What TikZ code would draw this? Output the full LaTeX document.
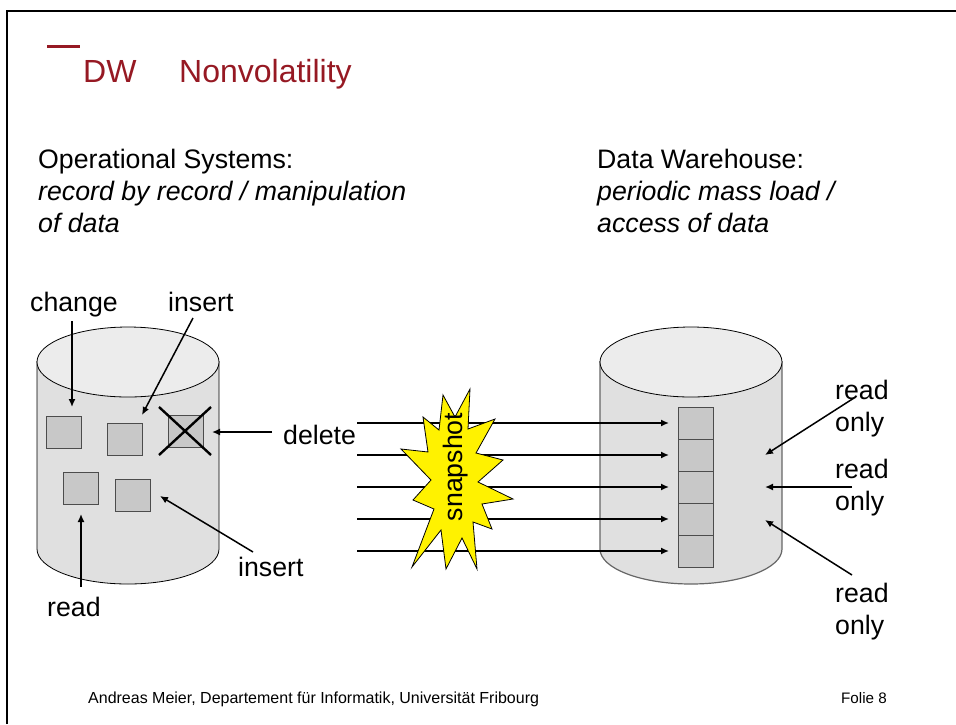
\documentclass[tikz,border=0pt]{standalone}
\usepackage{fontspec}
\usetikzlibrary{arrows.meta}
\setmainfont{Liberation Sans}
\definecolor{titlered}{RGB}{150,25,35}
\definecolor{tankside}{RGB}{224,224,224}
\definecolor{tanktop}{RGB}{236,236,236}
\definecolor{cellgray}{RGB}{200,200,200}
\tikzset{
tank/.style={fill=tankside},
tanklid/.style={draw=black,fill=tanktop,line width=.8pt},
cell/.style={draw=black!70,fill=cellgray,line width=1pt},
label/.style={font=\fontsize{26.7}{32}\selectfont,align=left,inner sep=0pt},
pointer/.style={-{Latex[length=8pt,width=7pt]},line width=1.5pt},
}
\begin{document}
\begin{tikzpicture}[x=1pt,y=-1pt]
\useasboundingbox (0,0) rectangle (956,724);
\draw[line width=2pt] (7,724)--(7,11)--(956,11);
\draw[titlered,line width=3.5pt] (47,46.5)--(80,46.5);
\node[anchor=base west,inner sep=0pt,text=titlered,font=\fontsize{32}{32}\selectfont] (dw) at (83,82) {DW};
\node[anchor=base west,inner sep=0pt,text=titlered,font=\fontsize{32}{32}\selectfont] (title) at (179,82) {Nonvolatility};

\node[label,anchor=north west] (ops) at (38,149) {Operational Systems:\\\textit{record by record / manipulation}\\\textit{of data}};
\node[label,anchor=north west] (dwh) at (597,149) {Data Warehouse:\\\textit{periodic mass load /}\\\textit{access of data}};

\foreach \x/\c/\w in {128/black/.8pt,691/black!60/1.2pt}{
\draw[tank,draw=\c,line width=\w] (\x-91,361)--(\x-91,549) arc (180:360:91 and -35)--(\x+91,361);
\draw[tanklid] (\x,362) ellipse (91 and 35);
}

\foreach \n/\x/\y in {sqa/46/416,sqb/107/423,sqc/168/415,sqd/63/472,sqe/115/479}
\node[cell,minimum width=35pt,minimum height=32pt,inner sep=0pt,anchor=north west] (\n) at (\x,\y) {};
\draw[line width=2.4pt] (159,407)--(211,455);
\draw[line width=2.4pt] (211,407)--(159,455);

\foreach \i/\y in {1/407,2/439,3/471,4/503,5/535}
\node[cell,minimum width=35pt,minimum height=32pt,inner sep=0pt,anchor=north west] (stack\i) at (678,\y) {};

\node[label,anchor=base west] (change) at (30,311) {change};
\node[label,anchor=base west] (insa) at (168,311) {insert};
\node[label,anchor=base west] (delete) at (283,444) {delete};
\node[label,anchor=base west] (insb) at (238,576) {insert};
\node[label,anchor=base west] (read) at (47,616) {read};
\node[label,anchor=base west] (ronea) at (835,431) {read\\only};
\node[label,anchor=base west] (roneb) at (835,510) {read\\only};
\node[label,anchor=base west] (ronec) at (835,634) {read\\only};

\coordinate (cha) at (72,321);
\coordinate (chb) at (72,407);
\coordinate (ina) at (193,318);
\coordinate (inb) at (142,415);
\coordinate (dela) at (272,432);
\coordinate (delb) at (212,432);
\coordinate (rea) at (81,587);
\coordinate (reb) at (81,514);
\coordinate (ioa) at (253,552);
\coordinate (iob) at (160,496);
\draw[pointer] (cha)--(chb);
\draw[pointer] (ina)--(inb);
\draw[pointer] (dela)--(delb);
\draw[pointer] (rea)--(reb);
\draw[pointer] (ioa)--(iob);

\foreach \i/\y in {1/423,2/455,3/487,4/519,5/551}{
\coordinate (from\i) at (357,\y);
\coordinate (to\i) at (669,\y);
\draw[pointer] (from\i)--(to\i);
}

\coordinate (roa) at (854,398);
\coordinate (rob) at (765,455);
\coordinate (roc) at (852,487);
\coordinate (rod) at (765,487);
\coordinate (roe) at (852,575);
\coordinate (rof) at (765,520);
\draw[pointer] (roa)--(rob);
\draw[pointer] (roc)--(rod);
\draw[pointer] (roe)--(rof);

\draw[fill=yellow,line width=.8pt] (470,389)--(468,429)--(495,419)--(476,453)--(503,460)--(478,482)--(513,499)--(482,504)--(492,529)--(473,522)--(477,569)--(462,538)--(446,569)--(441,530)--(412,567)--(434,509)--(413,500)--(431,480)--(401,449)--(428,452)--(423,417)--(439,430)--(443,395)--(455,417)--cycle;
\node[font=\fontsize{26.7}{26.7}\selectfont,rotate=90,inner sep=0pt] (snap) at (456,467) {snapshot};

\node[anchor=base west,inner sep=0pt,font=\fontsize{16}{16}\selectfont] (foot) at (88,703) {Andreas Meier, Departement für Informatik, Universität Fribourg};
\node[anchor=base west,inner sep=0pt,font=\fontsize{15.2}{15.2}\selectfont] (folie) at (841,703) {Folie 8};
\end{tikzpicture}
\end{document}
